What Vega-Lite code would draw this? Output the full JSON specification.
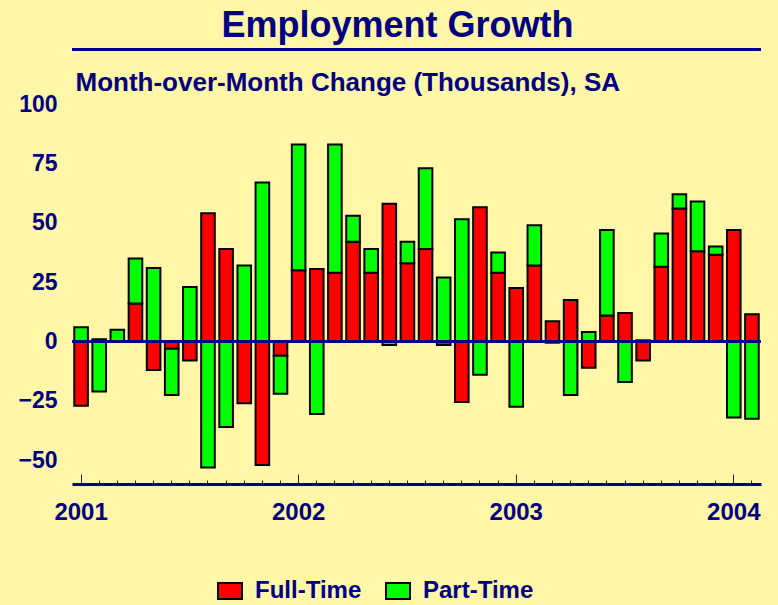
{
  "$schema": "https://vega.github.io/schema/vega-lite/v6.json",
  "autosize": "none",
  "width": 689,
  "height": 380,
  "padding": {"left": 72, "top": 104, "right": 17, "bottom": 121},
  "background": "#FFF6A8",
  "title": {
    "text": "Employment Growth",
    "anchor": "middle",
    "frame": "group",
    "dx": -19,
    "offset": 3,
    "font": "Liberation Sans",
    "fontSize": 36,
    "fontWeight": "bold",
    "color": "#000080"
  },
  "config": {
    "view": {"stroke": null},
    "font": "Liberation Sans"
  },
  "data": {
    "values": [
      {"month": "2001-01", "Full-Time": -27, "Part-Time": 6},
      {"month": "2001-02", "Full-Time": 1, "Part-Time": -21},
      {"month": "2001-03", "Full-Time": 0, "Part-Time": 5},
      {"month": "2001-04", "Full-Time": 16, "Part-Time": 19},
      {"month": "2001-05", "Full-Time": -12, "Part-Time": 31},
      {"month": "2001-06", "Full-Time": -3, "Part-Time": -19.5},
      {"month": "2001-07", "Full-Time": -8, "Part-Time": 23},
      {"month": "2001-08", "Full-Time": 54, "Part-Time": -53},
      {"month": "2001-09", "Full-Time": 39, "Part-Time": -36},
      {"month": "2001-10", "Full-Time": -26, "Part-Time": 32},
      {"month": "2001-11", "Full-Time": -52, "Part-Time": 67},
      {"month": "2001-12", "Full-Time": -6, "Part-Time": -16},
      {"month": "2002-01", "Full-Time": 30, "Part-Time": 53},
      {"month": "2002-02", "Full-Time": 30.5, "Part-Time": -30.5},
      {"month": "2002-03", "Full-Time": 29, "Part-Time": 54},
      {"month": "2002-04", "Full-Time": 42, "Part-Time": 11},
      {"month": "2002-05", "Full-Time": 29, "Part-Time": 10},
      {"month": "2002-06", "Full-Time": 58, "Part-Time": -1.5},
      {"month": "2002-07", "Full-Time": 33, "Part-Time": 9},
      {"month": "2002-08", "Full-Time": 39, "Part-Time": 34},
      {"month": "2002-09", "Full-Time": -1.5, "Part-Time": 27},
      {"month": "2002-10", "Full-Time": -25.5, "Part-Time": 51.5},
      {"month": "2002-11", "Full-Time": 56.5, "Part-Time": -14},
      {"month": "2002-12", "Full-Time": 29, "Part-Time": 8.5},
      {"month": "2003-01", "Full-Time": 22.5, "Part-Time": -27.5},
      {"month": "2003-02", "Full-Time": 32, "Part-Time": 17},
      {"month": "2003-03", "Full-Time": 8.5, "Part-Time": -0.5},
      {"month": "2003-04", "Full-Time": 17.5, "Part-Time": -22.5},
      {"month": "2003-05", "Full-Time": -11, "Part-Time": 4},
      {"month": "2003-06", "Full-Time": 11, "Part-Time": 36},
      {"month": "2003-07", "Full-Time": 12, "Part-Time": -17},
      {"month": "2003-08", "Full-Time": -8, "Part-Time": 0.5},
      {"month": "2003-09", "Full-Time": 31.5, "Part-Time": 14},
      {"month": "2003-10", "Full-Time": 56, "Part-Time": 6},
      {"month": "2003-11", "Full-Time": 38, "Part-Time": 21},
      {"month": "2003-12", "Full-Time": 36.5, "Part-Time": 3.5},
      {"month": "2004-01", "Full-Time": 47, "Part-Time": -32},
      {"month": "2004-02", "Full-Time": 11.5, "Part-Time": -32.5}
    ]
  },
  "layer": [
    {
      "transform": [{"fold": ["Full-Time", "Part-Time"], "as": ["type", "value"]}],
      "mark": {"type": "bar", "stroke": "#000000", "strokeWidth": 2},
      "encoding": {
        "x": {
          "field": "month",
          "type": "ordinal",
          "sort": null,
          "scale": {"paddingInner": 0.25, "paddingOuter": 0.125},
          "axis": {
            "title": null,
            "bandPosition": 0.5,
            "labelAngle": 0,
            "labelExpr": "substring(datum.value,5,7)=='01' ? substring(datum.value,0,4) : ''",
            "labelFont": "Liberation Sans",
            "labelFontSize": 24,
            "labelFontWeight": "bold",
            "labelColor": "#000080",
            "labelPadding": 26,
            "labelBaseline": "top",
            "tickSize": {"condition": {"test": "substring(datum.value,5,7)=='01'", "value": -10}, "value": -4},
            "tickColor": "#222222",
            "tickWidth": 1,
            "domainColor": "#000080",
            "domainWidth": 3,
            "grid": false
          }
        },
        "y": {
          "field": "value",
          "type": "quantitative",
          "stack": "zero",
          "scale": {"domain": [-60, 100], "nice": false},
          "axis": {
            "values": [-50, -25, 0, 25, 50, 75, 100],
            "title": "Month-over-Month Change (Thousands), SA",
            "titleAngle": 0,
            "titleAlign": "left",
            "titleBaseline": "alphabetic",
            "titleX": 3,
            "titleY": -14,
            "titleFont": "Liberation Sans",
            "titleFontSize": 26,
            "titleFontWeight": "bold",
            "titleColor": "#000080",
            "labelFont": "Liberation Sans",
            "labelFontSize": 23,
            "labelFontWeight": "bold",
            "labelColor": "#000080",
            "labelPadding": 15,
            "ticks": false,
            "domain": false,
            "grid": false
          }
        },
        "color": {
          "field": "type",
          "type": "nominal",
          "scale": {"domain": ["Full-Time", "Part-Time"], "range": ["#FF0000", "#00FF00"]},
          "legend": {
            "title": null,
            "orient": "none",
            "direction": "horizontal",
            "legendX": 146,
            "legendY": 475,
            "padding": 0,
            "symbolType": "M-1.5,-1H1.5V1H-1.5Z",
            "symbolSize": 256,
            "symbolStrokeColor": "#000000",
            "symbolStrokeWidth": 2,
            "symbolOpacity": 1,
            "labelFont": "Liberation Sans",
            "labelFontSize": 24,
            "labelFontWeight": "bold",
            "labelColor": "#000080",
            "labelOffset": 13,
            "columnPadding": 20
          }
        },
        "order": {"field": "type", "sort": "ascending"}
      }
    },
    {
      "mark": {"type": "rule", "stroke": "#000080", "strokeWidth": 3},
      "encoding": {"y": {"datum": 0, "type": "quantitative"}}
    },
    {
      "mark": {"type": "rule", "stroke": "#000080", "strokeWidth": 3, "clip": false},
      "encoding": {"y": {"datum": 123, "type": "quantitative"}}
    }
  ]
}
